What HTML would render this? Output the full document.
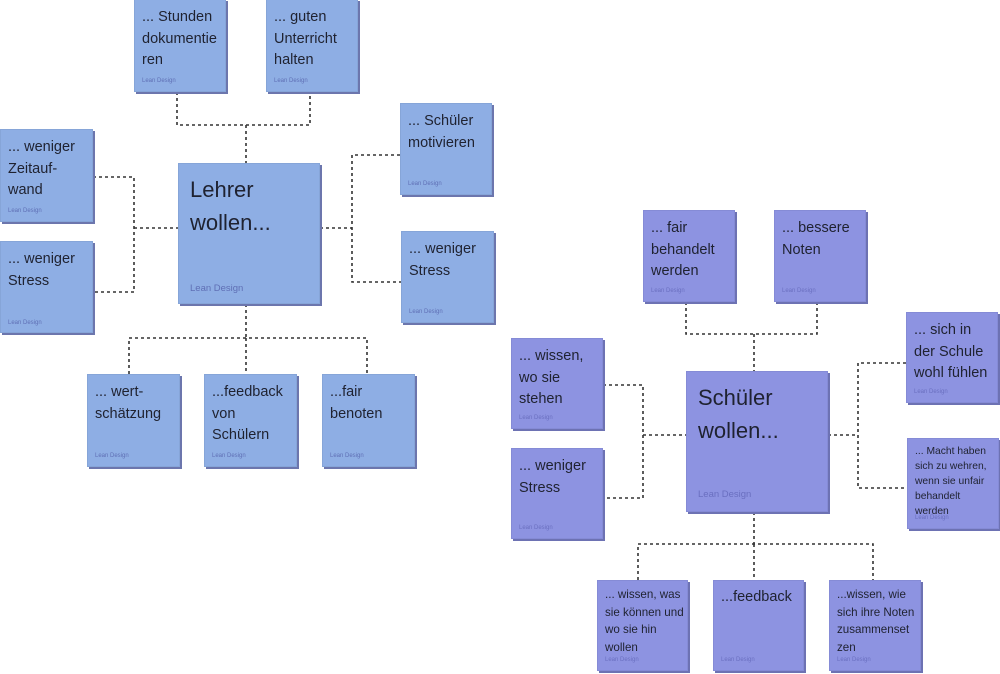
<!DOCTYPE html>
<html><head><meta charset="utf-8">
<style>
html,body{margin:0;padding:0;background:#fff;}
body{width:1000px;height:674px;position:relative;overflow:hidden;font-family:"Liberation Sans",sans-serif;}
.b{position:absolute;box-sizing:border-box;background:#8eaee4;box-shadow:2px 2px 0 #6c76ad;border:1px solid #86a5d8;color:#1f2230;}
.r{background:#8d93e1;box-shadow:2px 2px 0 #6d72b3;border:1px solid #858bd6;}
.t{position:absolute;left:7px;top:7px;font-size:14.5px;line-height:21.5px;white-space:nowrap;}
.ld{position:absolute;left:7px;font-size:6px;color:#5f6fb5;white-space:nowrap;}
.r .ld{color:#6a6fc0;}
.big .t{left:11px;top:9px;font-size:22px;line-height:33px;}
.big .ld{left:11px;font-size:9.5px;}
svg{position:absolute;left:0;top:0;}
</style></head><body>
<svg width="1000" height="674" viewBox="0 0 1000 674">
<g fill="none" stroke="#333" stroke-width="1.6" stroke-dasharray="3 3">
<path d="M177 92 V125 H310 V92"/>
<path d="M246 125 V163"/>
<path d="M93 177 H134 V292 H93"/>
<path d="M134 228 H178"/>
<path d="M320 228 H352"/>
<path d="M400 155 H352 V282 H401"/>
<path d="M246 304 V338"/>
<path d="M129 374 V338 H367 V374"/>
<path d="M246 338 V374"/>
<path d="M686 302 V334 H817 V302"/>
<path d="M754 334 V371"/>
<path d="M603 385 H643 V498 H603"/>
<path d="M643 435 H686"/>
<path d="M828 435 H858"/>
<path d="M906 363 H858 V488 H907"/>
<path d="M754 512 V544"/>
<path d="M638 580 V544 H873 V580"/>
<path d="M754 544 V580"/>
</g>
</svg>

<!-- Left cluster -->
<div class="b" style="left:134px;top:-1px;width:92px;height:93px;"><div class="t" style="top:7px">... Stunden<br>dokumentie<br>ren</div><div class="ld" style="top:78px">Lean Design</div></div>
<div class="b" style="left:266px;top:-1px;width:92px;height:93px;"><div class="t" style="top:7px">... guten<br>Unterricht<br>halten</div><div class="ld" style="top:78px">Lean Design</div></div>
<div class="b" style="left:400px;top:103px;width:92px;height:92px;"><div class="t">... Schüler<br>motivieren</div><div class="ld" style="top:77px">Lean Design</div></div>
<div class="b" style="left:0px;top:129px;width:93px;height:93px;"><div class="t">... weniger<br>Zeitauf-<br>wand</div><div class="ld" style="top:78px">Lean Design</div></div>
<div class="b" style="left:0px;top:241px;width:93px;height:92px;"><div class="t">... weniger<br>Stress</div><div class="ld" style="top:78px">Lean Design</div></div>
<div class="b" style="left:401px;top:231px;width:93px;height:92px;"><div class="t">... weniger<br>Stress</div><div class="ld" style="top:77px">Lean Design</div></div>
<div class="b big" style="left:178px;top:163px;width:142px;height:141px;"><div class="t">Lehrer<br>wollen...</div><div class="ld" style="top:119px">Lean Design</div></div>
<div class="b" style="left:87px;top:374px;width:93px;height:93px;"><div class="t">... wert-<br>schätzung</div><div class="ld" style="top:78px">Lean Design</div></div>
<div class="b" style="left:204px;top:374px;width:93px;height:93px;"><div class="t">...feedback<br>von<br>Schülern</div><div class="ld" style="top:78px">Lean Design</div></div>
<div class="b" style="left:322px;top:374px;width:93px;height:93px;"><div class="t">...fair<br>benoten</div><div class="ld" style="top:78px">Lean Design</div></div>

<!-- Right cluster -->
<div class="b r" style="left:643px;top:210px;width:92px;height:92px;"><div class="t">... fair<br>behandelt<br>werden</div><div class="ld" style="top:77px">Lean Design</div></div>
<div class="b r" style="left:774px;top:210px;width:92px;height:92px;"><div class="t">... bessere<br>Noten</div><div class="ld" style="top:77px">Lean Design</div></div>
<div class="b r" style="left:906px;top:312px;width:92px;height:91px;"><div class="t">... sich in<br>der Schule<br>wohl fühlen</div><div class="ld" style="top:76px">Lean Design</div></div>
<div class="b r" style="left:511px;top:338px;width:92px;height:91px;"><div class="t">... wissen,<br>wo sie<br>stehen</div><div class="ld" style="top:76px">Lean Design</div></div>
<div class="b r" style="left:511px;top:448px;width:92px;height:91px;"><div class="t">... weniger<br>Stress</div><div class="ld" style="top:76px">Lean Design</div></div>
<div class="b r big" style="left:686px;top:371px;width:142px;height:141px;"><div class="t">Schüler<br>wollen...</div><div class="ld" style="top:117px">Lean Design</div></div>
<div class="b r" style="left:907px;top:438px;width:92px;height:91px;"><div class="t" style="top:5px;font-size:10.3px;line-height:15px;">... Macht haben<br>sich zu wehren,<br>wenn sie unfair<br>behandelt<br>werden</div><div class="ld" style="top:76px">Lean Design</div></div>
<div class="b r" style="left:597px;top:580px;width:91px;height:91px;"><div class="t" style="top:5px;font-size:11.6px;line-height:17.5px;">... wissen, was<br>sie können und<br>wo sie hin<br>wollen</div><div class="ld" style="top:76px">Lean Design</div></div>
<div class="b r" style="left:713px;top:580px;width:91px;height:91px;"><div class="t" style="top:6px">...feedback</div><div class="ld" style="top:76px">Lean Design</div></div>
<div class="b r" style="left:829px;top:580px;width:92px;height:91px;"><div class="t" style="top:5px;font-size:11.6px;line-height:17.5px;">...wissen, wie<br>sich ihre Noten<br>zusammenset<br>zen</div><div class="ld" style="top:76px">Lean Design</div></div>
</body></html>
